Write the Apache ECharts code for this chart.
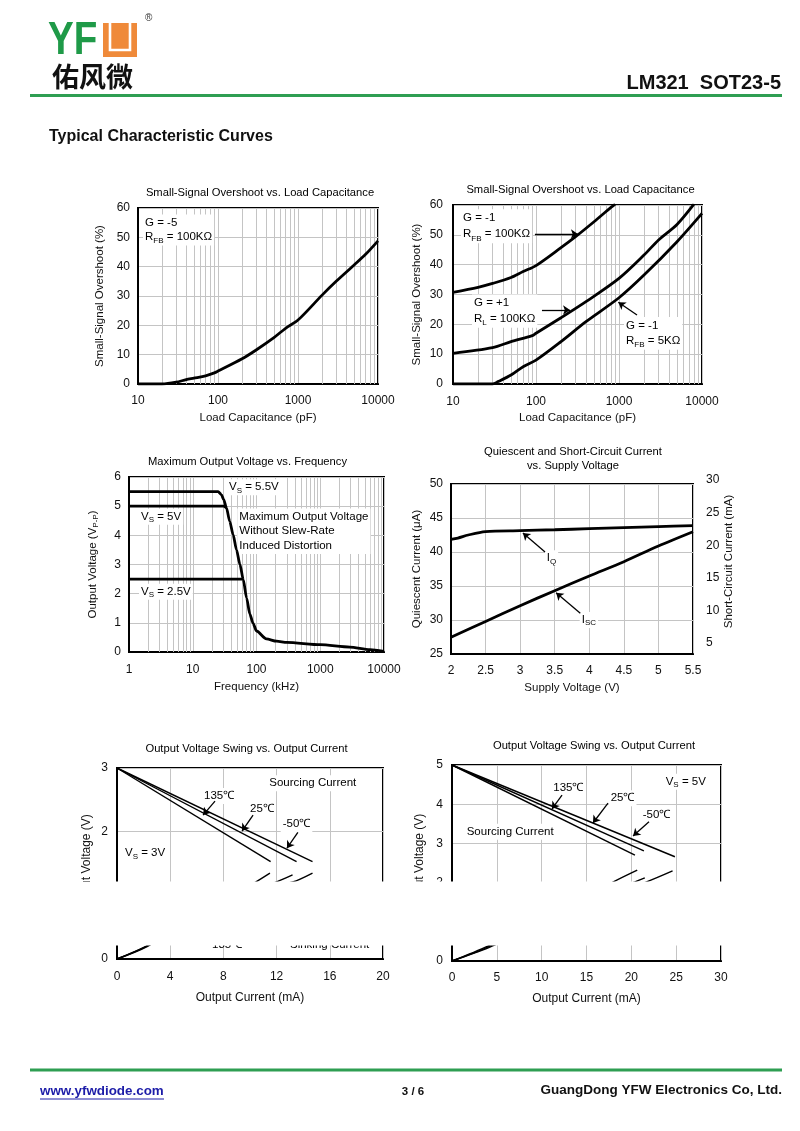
<!DOCTYPE html>
<html><head><meta charset="utf-8">
<script src="https://cdn.jsdelivr.net/npm/echarts@6/dist/echarts.min.js"></script>
<style>html,body{margin:0;padding:0;background:#fff}#c{width:800px;height:1131px}</style>
</head><body><div id="c"></div>
<script>
// ---------- tick arrays ----------
const ovsTicksX = [10, 100, 1000, 10000];
const ovsTicksY = [0, 10, 20, 30, 40, 50, 60];
const freqTicksX = [1, 10, 100, 1000, 10000];
const voutTicksY = [0, 1, 2, 3, 4, 5, 6];
const supplyTicksX = [2, 2.5, 3, 3.5, 4, 4.5, 5, 5.5];
const iqTicksY = [25, 30, 35, 40, 45, 50];
const iscTicksY = [5, 10, 15, 20, 25, 30];
const swing3TicksX = [0, 4, 8, 12, 16, 20];
const swing3TicksY = [0, 1, 2, 3];
const swing5TicksX = [0, 5, 10, 15, 20, 25, 30];
const swing5TicksY = [0, 1, 2, 3, 4, 5];

// ---------- series data ----------
const overshootG5 = [[10,0],[20,0],[30,0.6],[40,1.5],[50,2.0],[70,2.8],[90,3.8],[100,4.4],[200,8.6],[300,11.6],[500,15.8],[700,19],[1000,21.8],[2000,30.3],[3000,35],[5000,40.5],[7000,44.2],[10000,48.8]];
const overshootG1R100k = [[10,30.7],[20,32.4],[30,33.7],[50,35.7],[70,37.7],[100,39.7],[200,45.7],[300,49.4],[500,54.4],[800,59.2],[900,60.3]];
const overshootGp1 = [[10,10.3],[30,12.2],[50,14.2],[90,16.2],[100,17],[200,22.2],[400,27.6],[1000,35.4],[2000,43.2],[3000,48.3],[5000,53.5],[8000,60.3]];
const overshootG1R5k = [[10,0],[30,0],[35,0.8],[50,3],[70,5.8],[100,8],[200,14.2],[400,20.9],[1000,28.9],[2000,36.5],[5000,47.7],[10000,57.2]];

const voutVs55 = [[1,5.5],[25,5.5],[28.2,5.39],[30.6,5.22],[33.8,4.94],[38,4.48],[43,4.02],[48.6,3.5],[55,3.0],[62,2.48],[70,1.85],[78.5,1.31],[88,0.99],[100,0.72],[143,0.45],[206,0.37],[300,0.33],[1000,0.25],[2900,0.17],[6000,0.08],[10000,0.02]];
const voutVs5 = [[1,5],[31,5],[33.8,4.94]];
const voutVs25 = [[1,2.5],[62,2.5]];

const iqCurrent = [[2,41.85],[2.1,42.05],[2.25,42.5],[2.5,43.0],[3,43.14],[3.5,43.27],[4,43.43],[4.5,43.58],[5,43.73],[5.5,43.87]];
const iscCurrent = [[2,5.87],[2.5,8.3],[3,10.72],[3.5,13.02],[4,15.28],[4.5,17.47],[5,19.88],[5.5,22.07]];

const src3_135 = [[0,3],[11.55,1.53]];
const src3_25 = [[0,3],[13.5,1.53]];
const src3_m50 = [[0,3],[14.7,1.53]];
const sink3_135 = [[0,0],[2.1,0.19],[6,0.62],[10.45,1.21],[11.5,1.35]];
const sink3_25 = [[0,0],[2.2,0.2],[8,0.9],[12.0,1.21],[13.2,1.32]];
const sink3_m50 = [[0,0],[2.3,0.2],[9,1.0],[13.2,1.21],[14.7,1.35]];

const src5_135 = [[0,5],[20.4,2.70]];
const src5_25 = [[0,5],[21.4,2.81]];
const src5_m50 = [[0,5],[24.86,2.66]];
const sink5_135 = [[0,0],[4.0,0.38],[12,1.25],[18.0,2.02],[20.66,2.32]];
const sink5_25 = [[0,0],[4.05,0.36],[14,1.45],[20.4,2.02],[21.5,2.12]];
const sink5_m50 = [[0,0],[4.1,0.34],[15,1.45],[21.7,2.02],[24.6,2.3]];

// annotation arrows [x1,y1,x2(tip),y2(tip)] in data units
const arrowsC2 = [[97,50.3,320,50.3],[118,24.8,257,24.8],[1648,23.1,982,27.4]];
const arrowsC4 = [[3.36,40.0,3.04,42.8],[3.87,31.0,3.52,34.0]];
const arrowsC5 = [[7.37,2.48,6.47,2.26],[10.23,2.26,9.4,2.01],[13.6,1.99,12.78,1.74]];
const arrowsC6 = [[12.27,4.23,11.15,3.88],[17.4,4.03,15.72,3.52],[21.97,3.55,20.19,3.19]];

// ---------- helpers ----------
const F = '"Liberation Sans", Arial, Helvetica, sans-serif';
const GRID_COLOR = '#c4c4c4';
function minorDecades(lo, hi) {
  const out = [];
  for (let d = lo; d < hi; d *= 10) for (let k = 2; k <= 9; k++) out.push(d * k);
  return out;
}
function axisX(gi, type, ticks, name, gap, margin) {
  const a = {
    gridIndex: gi, type, min: ticks[0], max: ticks[ticks.length - 1],
    name, nameLocation: 'middle', nameGap: gap,
    nameTextStyle: {fontSize: 11.5, fontFamily: F, color: '#111'},
    axisLine: {show: true, lineStyle: {color: '#000', width: 2}},
    axisTick: {show: false},
    axisLabel: {margin, color: '#111', fontSize: 12, fontFamily: F},
    splitLine: {show: true, lineStyle: {color: GRID_COLOR, width: 1}}
  };
  if (type === 'value') a.interval = ticks[1] - ticks[0];
  else { a.logBase = 10; a.axisLabel.formatter = v => String(Math.round(v)); }
  return a;
}
function axisY(gi, ticks, name, gap, margin, extra) {
  return Object.assign({
    gridIndex: gi, type: 'value', min: ticks[0], max: ticks[ticks.length - 1], interval: ticks[1] - ticks[0],
    name, nameLocation: 'middle', nameGap: gap,
    nameTextStyle: {fontSize: 11.5, fontFamily: F, color: '#111'},
    axisLine: {show: true, lineStyle: {color: '#000', width: 2}},
    axisTick: {show: false},
    axisLabel: {margin, color: '#111', fontSize: 12, fontFamily: F},
    splitLine: {show: true, lineStyle: {color: GRID_COLOR, width: 1}}
  }, extra || {});
}
function curve(data, xi, yi, w, extra) {
  return Object.assign({type: 'line', data, xAxisIndex: xi, yAxisIndex: yi, showSymbol: false, symbol: 'none',
    lineStyle: {color: '#000', width: w}, z: 3, silent: true, animation: false}, extra || {});
}
function minorGrid(xi, yi, vals) {
  return {type: 'line', data: [], xAxisIndex: xi, yAxisIndex: yi, silent: true,
    markLine: {z: 1, silent: true, animation: false, symbol: ['none', 'none'], label: {show: false},
      lineStyle: {color: GRID_COLOR, width: 1, type: 'solid'}, emphasis: {disabled: true},
      data: vals.map(v => ({xAxis: v}))}};
}
function arrowSeries(xi, yi, list) {
  return {type: 'line', data: [], xAxisIndex: xi, yAxisIndex: yi, silent: true,
    markLine: {z: 6, silent: true, animation: false, symbol: ['none', 'arrow'], symbolSize: 7, label: {show: false},
      lineStyle: {color: '#000', width: 1.3, type: 'solid'}, emphasis: {disabled: true},
      data: list.map(a => [{coord: [a[0], a[1]]}, {coord: [a[2], a[3]]}])}};
}
function rich(lh) {
  return {
    a: {fontSize: 11.5, fontFamily: F, fill: '#000', color: '#000', lineHeight: lh},
    s: {fontSize: 8, fontFamily: F, fill: '#000', color: '#000', lineHeight: 9, verticalAlign: 'bottom'}
  };
}
// ann: lines is array of rich strings; y = center of first line
function ann(x, y, lines, lh, bg) {
  lh = lh || 15;
  return {type: 'text', x: x - 2, y: y - lh / 2 - 1, z: 2,
    style: {text: lines.join('\n'), rich: rich(lh), fontSize: 11.5, fontFamily: F, fill: '#000',
      align: 'left', textAlign: 'left', verticalAlign: 'top', textVerticalAlign: 'top',
      backgroundColor: bg === false ? null : '#fff', padding: [1, 2, 1, 2], lineHeight: lh}};
}
function txt(x, y, text, size, opt) {
  const st = Object.assign({text, fill: '#000', fontSize: size, fontFamily: F,
    align: 'left', textAlign: 'left', verticalAlign: 'middle', textVerticalAlign: 'middle'}, opt || {});
  if (st.align) st.textAlign = st.align;
  return {type: 'text', x, y, z: 20, style: st};
}

const chart = echarts.init(document.getElementById('c'), null, {renderer: 'canvas'});

const grids = [
  {left: 138, top: 208, width: 240, height: 176},
  {left: 453, top: 205, width: 249, height: 179},
  {left: 129, top: 477, width: 255, height: 175},
  {left: 451, top: 484, width: 242, height: 170},
  {left: 451, top: 480, width: 242, height: 163},
  {left: 117, top: 768, width: 266, height: 191},
  {left: 452, top: 765, width: 269, height: 196}
].map((g, i) => Object.assign({show: i !== 4, borderColor: '#000', borderWidth: 2, backgroundColor: 'transparent'}, g));

const xAxes = [
  axisX(0, 'log', ovsTicksX, 'Load Capacitance (pF)', 28, 11),
  axisX(1, 'log', ovsTicksX, 'Load Capacitance (pF)', 28, 12),
  axisX(2, 'log', freqTicksX, 'Frequency (kHz)', 29, 12),
  axisX(3, 'value', supplyTicksX, 'Supply Voltage (V)', 28, 11),
  Object.assign(axisX(4, 'value', supplyTicksX, '', 0, 0), {show: false}),
  axisX(5, 'value', swing3TicksX, 'Output Current (mA)', 33, 12),
  axisX(6, 'value', swing5TicksX, 'Output Current (mA)', 32, 11)
];
xAxes[5].nameTextStyle.fontSize = 12;
xAxes[6].nameTextStyle.fontSize = 12;

const yAxes = [
  axisY(0, ovsTicksY, 'Small-Signal Overshoot (%)', 32, 8),
  axisY(1, ovsTicksY, 'Small-Signal Overshoot (%)', 30, 10),
  axisY(2, voutTicksY, '{a|Output Voltage (V}{s|P-P}{a|)}', 29, 8),
  axisY(3, iqTicksY, 'Quiescent Current (μA)', 28, 8),
  axisY(4, iscTicksY, 'Short-Circuit Current (mA)', 27, 13, {position: 'right', axisLine: {show: false}, splitLine: {show: false}}),
  axisY(5, swing3TicksY, 'Output Voltage (V)', 24, 9),
  axisY(6, swing5TicksY, 'Output Voltage (V)', 26, 9)
];
yAxes[2].nameTextStyle.rich = {
  a: {fontSize: 11.5, fontFamily: F, color: '#111', lineHeight: 14},
  s: {fontSize: 8, fontFamily: F, color: '#111', lineHeight: 9, verticalAlign: 'bottom'}
};
yAxes[5].nameTextStyle.fontSize = 12;
yAxes[6].nameTextStyle.fontSize = 12;

const series = [
  minorGrid(0, 0, minorDecades(10, 10000)),
  minorGrid(1, 1, minorDecades(10, 10000)),
  minorGrid(2, 2, minorDecades(1, 10000)),
  curve(overshootG5, 0, 0, 2.8, {smooth: 0.3}),
  curve(overshootG1R100k, 1, 1, 2.8, {smooth: 0.3}),
  curve(overshootGp1, 1, 1, 2.8, {smooth: 0.3}),
  curve(overshootG1R5k, 1, 1, 2.8, {smooth: 0.3}),
  arrowSeries(1, 1, arrowsC2),
  curve(voutVs55, 2, 2, 2.8, {smooth: 0.25, smoothMonotone: 'x'}),
  curve(voutVs5, 2, 2, 2.8),
  curve(voutVs25, 2, 2, 2.8),
  curve(iqCurrent, 3, 3, 2.8, {smooth: 0.3}),
  curve(iscCurrent, 4, 4, 2.8, {smooth: 0.3}),
  arrowSeries(3, 3, arrowsC4),
  curve(src3_135, 5, 5, 1.4), curve(src3_25, 5, 5, 1.4), curve(src3_m50, 5, 5, 1.4),
  curve(sink3_135, 5, 5, 1.4, {smooth: 0.3}), curve(sink3_25, 5, 5, 1.4, {smooth: 0.3}), curve(sink3_m50, 5, 5, 1.4, {smooth: 0.3}),
  arrowSeries(5, 5, arrowsC5),
  curve(src5_135, 6, 6, 1.4), curve(src5_25, 6, 6, 1.4), curve(src5_m50, 6, 6, 1.4),
  curve(sink5_135, 6, 6, 1.4, {smooth: 0.3}), curve(sink5_25, 6, 6, 1.4, {smooth: 0.3}), curve(sink5_m50, 6, 6, 1.4, {smooth: 0.3}),
  arrowSeries(6, 6, arrowsC6)
];

const GREEN = '#2e9e52';
const graphics = [
  // header
  {type: 'text', x: 48, y: 41, z: 20, scaleX: 0.82, originX: 0, originY: 0,
    style: {text: 'YF', fill: '#1f9a48', fontSize: 47, fontWeight: 'bold', fontFamily: F, align: 'left', textAlign: 'left', verticalAlign: 'middle', textVerticalAlign: 'middle'}},
  {type: 'rect', z: 20, shape: {x: 103, y: 23, width: 34, height: 34}, style: {fill: '#ef8a3a'}},
  {type: 'polyline', z: 21, shape: {points: [[110, 23], [110, 50], [130, 50], [130, 23]]}, style: {stroke: '#fff', lineWidth: 2.6, fill: null}},
  txt(52, 77, '佑风微', 27, {fontFamily: '"Noto Sans CJK SC", sans-serif', fontWeight: 'bold', fill: '#111'}),
  txt(145, 18, '®', 10, {fill: '#333'}),
  txt(781, 83, 'LM321  SOT23-5', 20, {fontWeight: 'bold', align: 'right', fill: '#111'}),
  {type: 'line', z: 20, shape: {x1: 30, y1: 95.5, x2: 782, y2: 95.5}, style: {stroke: GREEN, lineWidth: 3}},
  txt(49, 137, 'Typical Characteristic Curves', 16, {fontWeight: 'bold', fill: '#111'}),
  // chart titles
  txt(260, 193, 'Small-Signal Overshoot vs. Load Capacitance', 11.2, {align: 'center'}),
  txt(580.5, 190, 'Small-Signal Overshoot vs. Load Capacitance', 11.2, {align: 'center'}),
  txt(247.5, 461.5, 'Maximum Output Voltage vs. Frequency', 11.2, {align: 'center'}),
  txt(573, 452, 'Quiescent and Short-Circuit Current', 11.2, {align: 'center'}),
  txt(573, 466, 'vs. Supply Voltage', 11.2, {align: 'center'}),
  txt(246.5, 749, 'Output Voltage Swing vs. Output Current', 11.2, {align: 'center'}),
  txt(594, 746, 'Output Voltage Swing vs. Output Current', 11.2, {align: 'center'}),
  // chart 1
  ann(145, 222.7, ['{a|G = -5}', '{a|R}{s|FB}{a| = 100KΩ}'], 14.6),
  // chart 2
  ann(463, 218.3, ['{a|G = -1}', '{a|R}{s|FB}{a| = 100KΩ}'], 16),
  ann(474, 303.3, ['{a|G = +1}', '{a|R}{s|L}{a| = 100KΩ}'], 15.7),
  ann(626, 325.7, ['{a|G = -1}', '{a|R}{s|FB}{a| = 5KΩ}'], 15.3),
  // chart 3
  ann(229, 487.3, ['{a|V}{s|S}{a| = 5.5V}'], 14),
  ann(141, 516.7, ['{a|V}{s|S}{a| = 5V}'], 14),
  ann(239.3, 516.7, ['{a|Maximum Output Voltage}', '{a|Without Slew-Rate}', '{a|Induced Distortion}'], 14.5),
  ann(141, 591.7, ['{a|V}{s|S}{a| = 2.5V}'], 14),
  // chart 4
  ann(546.7, 558.3, ['{a|I}{s|Q}'], 14),
  ann(581.7, 620, ['{a|I}{s|SC}'], 14),
  // chart 5
  ann(269.3, 783.3, ['{a|Sourcing Current}'], 14),
  ann(204, 796, ['{a|135℃}'], 14),
  ann(250, 809, ['{a|25℃}'], 14),
  ann(282.7, 824.3, ['{a|-50℃}'], 14),
  ann(125, 853.3, ['{a|V}{s|S}{a| = 3V}'], 14),
  ann(212, 944.5, ['{a|135℃}'], 14, false),
  ann(290, 944.5, ['{a|Sinking Current}'], 14, false),
  // chart 6
  ann(665.7, 781.7, ['{a|V}{s|S}{a| = 5V}'], 14),
  ann(553.3, 788, ['{a|135℃}'], 14),
  ann(610.7, 798.3, ['{a|25℃}'], 14),
  ann(642.7, 815, ['{a|-50℃}'], 14),
  ann(466.7, 831.7, ['{a|Sourcing Current}'], 14),
  // white band hiding the middle of the two bottom charts
  {type: 'rect', z: 100, shape: {x: 0, y: 881.5, width: 800, height: 64}, style: {fill: '#fff'}},
  // footer
  {type: 'line', z: 20, shape: {x1: 30, y1: 1070, x2: 782, y2: 1070}, style: {stroke: GREEN, lineWidth: 3}},
  txt(40, 1091, 'www.yfwdiode.com', 13.4, {fontWeight: 'bold', fill: '#1c1ca8'}),
  {type: 'line', z: 20, shape: {x1: 40, y1: 1099, x2: 164, y2: 1099}, style: {stroke: '#1c1ca8', lineWidth: 1}},
  txt(413, 1092, '3 / 6', 11.5, {fontWeight: 'bold', align: 'center', fill: '#111'}),
  txt(782, 1090, 'GuangDong YFW Electronics Co, Ltd.', 13.5, {fontWeight: 'bold', align: 'right', fill: '#111'})
];

chart.setOption({
  animation: false,
  backgroundColor: '#fff',
  grid: grids,
  xAxis: xAxes,
  yAxis: yAxes,
  series,
  graphic: {elements: graphics}
});
</script></body></html>
